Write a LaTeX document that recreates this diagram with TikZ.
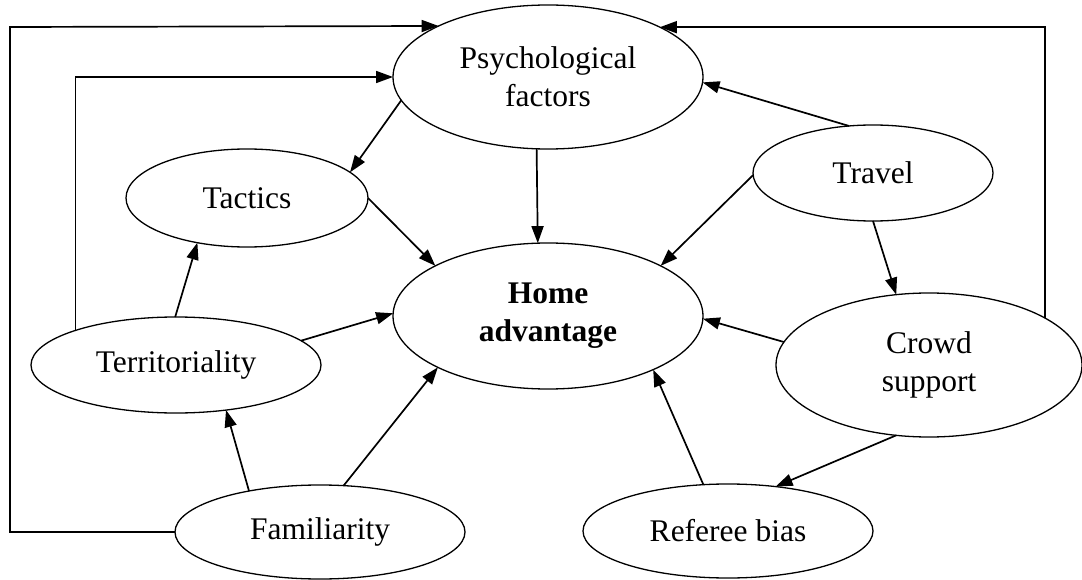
\documentclass[tikz,border=0pt]{standalone}
\usepackage{fontspec}
\setmainfont{Liberation Serif}
\usetikzlibrary{shapes.geometric,arrows.meta}
\begin{document}
\begin{tikzpicture}[x=1pt,y=-1pt,
  el/.style={ellipse,draw,line width=1.3pt,inner sep=0pt,outer sep=0pt,align=center,
             font=\fontsize{31.5}{38}\selectfont},
  arr/.style={line width=1.7pt,-{Triangle[length=17pt,width=12pt]}}]
\useasboundingbox (0,0) rectangle (1082,580);
\fill[white] (0,0) rectangle (1082,580);

\node[el,minimum width=310pt,minimum height=144pt] (psy)   at (548,77)  {Psychological\\factors};
\node[el,minimum width=310pt,minimum height=146pt] (home)  at (548,316) {\bfseries Home\\\bfseries advantage};
\node[el,minimum width=242pt,minimum height=98pt]  (tac)   at (247,198) {Tactics};
\node[el,minimum width=240pt,minimum height=96pt]  (trav)  at (873,173) {Travel};
\node[el,minimum width=290pt,minimum height=96pt]  (terr)  at (176,365) {Territoriality};
\node[el,minimum width=306pt,minimum height=144pt] (crowd) at (929,365) {Crowd\\support};
\node[el,minimum width=290pt,minimum height=94pt]  (fam)   at (320,532) {Familiarity};
\node[el,minimum width=290pt,minimum height=94pt]  (ref)   at (728,531) {Referee bias};

\coordinate (ol) at (10,27);

% frame connectors
\draw[arr] (fam.west) -| (ol) -- (psy.155.8);
\draw[arr] (crowd.22.8) |- (psy.24.2);
\draw[arr] (terr.161.8) |- (psy.west);

% arrows
\draw[arr] (psy.189.6) -- (tac.14.6);
\draw[arr] (tac.0) -- (home.156);
\draw[arr] (psy.261.3) -- (home.98.6);
\draw[arr] (trav.117.5) -- (psy.-2);
\draw[arr] (trav.181) -- (home.24.2);
\draw[arr] (trav.270) -- (crowd.115.3);
\draw[arr] (crowd.171.5) -- (home.-1.5);
\draw[arr] (crowd.245.7) -- (ref.43.8);
\draw[arr] (ref.118) -- (home.-27.2);
\draw[arr] (fam.63.9) -- (home.205.3);
\draw[arr] (fam.150.5) -- (terr.318.6);
\draw[arr] (terr.11.4) -- (home.179);
\draw[arr] (terr.91) -- (tac.222);
\end{tikzpicture}
\end{document}
